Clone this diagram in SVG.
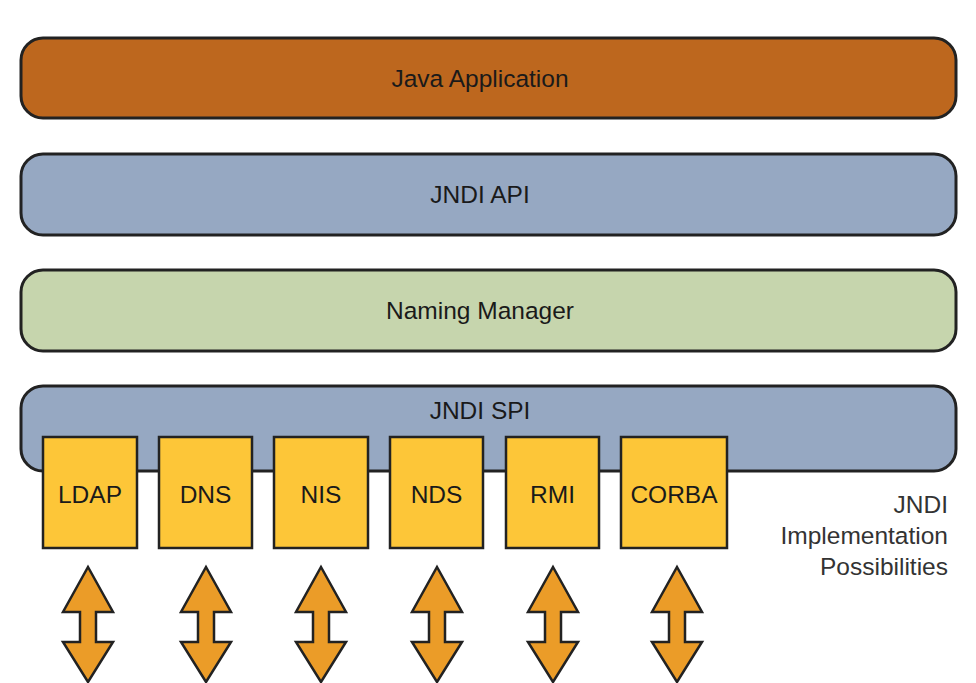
<svg xmlns="http://www.w3.org/2000/svg" width="976" height="683" viewBox="0 0 976 683">
<style>
  .bar { stroke: #222; stroke-width: 3; }
  .box { fill: #FDC638; stroke: #222; stroke-width: 2.5; }
  .lbl { font-family: "Liberation Sans", Arial, sans-serif; font-size: 24.5px; fill: #1a1a1a; text-anchor: middle; }
  .note { font-family: "Liberation Sans", Arial, sans-serif; font-size: 24.5px; fill: #333; text-anchor: end; }
  .arr { fill: #EB9C28; stroke: #222; stroke-width: 2.5; stroke-linejoin: miter; }
</style>
<defs>
  <path id="dbl" d="M0,-58 L25,-13 L8,-13 L8,17 L25,17 L0,57 L-25,17 L-8,17 L-8,-13 L-25,-13 Z"/>
</defs>
<rect width="976" height="683" fill="#fff"/>
<g id="java-application">
  <rect class="bar" x="21" y="38" width="935" height="80" rx="22" fill="#BD671E"/>
  <text class="lbl" x="480" y="87">Java Application</text>
</g>
<g id="jndi-api">
  <rect class="bar" x="21" y="154" width="935" height="81" rx="22" fill="#96A8C2"/>
  <text class="lbl" x="480" y="203">JNDI API</text>
</g>
<g id="naming-manager">
  <rect class="bar" x="21" y="270" width="935" height="81" rx="22" fill="#C6D5AD"/>
  <text class="lbl" x="480" y="319">Naming Manager</text>
</g>
<g id="jndi-spi">
  <rect class="bar" x="21" y="386" width="935" height="85" rx="22" fill="#96A8C2"/>
  <text class="lbl" x="480" y="419">JNDI SPI</text>
</g>
<g id="ldap">
  <rect class="box" x="43" y="437" width="94" height="111"/>
  <text class="lbl" x="90" y="503">LDAP</text>
</g>
<g id="dns">
  <rect class="box" x="159" y="437" width="93" height="111"/>
  <text class="lbl" x="205.5" y="503">DNS</text>
</g>
<g id="nis">
  <rect class="box" x="274" y="437" width="94" height="111"/>
  <text class="lbl" x="321" y="503">NIS</text>
</g>
<g id="nds">
  <rect class="box" x="390" y="437" width="93" height="111"/>
  <text class="lbl" x="436.5" y="503">NDS</text>
</g>
<g id="rmi">
  <rect class="box" x="506" y="437" width="93" height="111"/>
  <text class="lbl" x="552.5" y="503">RMI</text>
</g>
<g id="corba">
  <rect class="box" x="621" y="437" width="106" height="111"/>
  <text class="lbl" x="674" y="503">CORBA</text>
</g>
<g id="implementation-note">
  <text class="note" x="948" y="513">JNDI</text>
  <text class="note" x="948" y="544">Implementation</text>
  <text class="note" x="948" y="575">Possibilities</text>
</g>
<g id="connectors">
  <use href="#dbl" class="arr" x="88" y="625"/>
  <use href="#dbl" class="arr" x="206" y="625"/>
  <use href="#dbl" class="arr" x="321" y="625"/>
  <use href="#dbl" class="arr" x="437" y="625"/>
  <use href="#dbl" class="arr" x="553" y="625"/>
  <use href="#dbl" class="arr" x="677" y="625"/>
</g>
</svg>
